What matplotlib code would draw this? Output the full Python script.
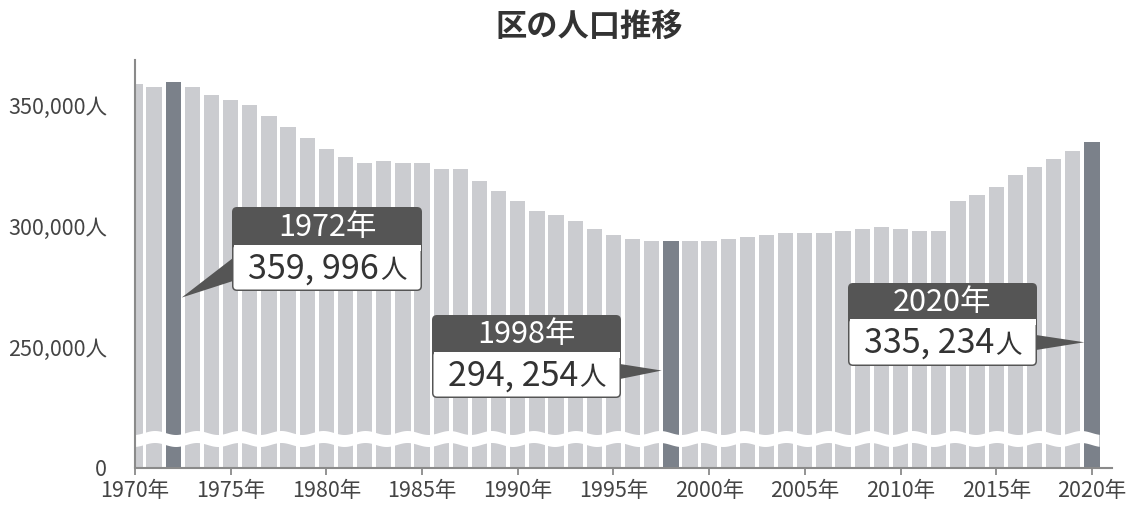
import numpy as np
import matplotlib
matplotlib.use("Agg")
import matplotlib.pyplot as plt
from matplotlib.patches import FancyBboxPatch, Polygon, Rectangle
from matplotlib.transforms import Affine2D, blended_transform_factory

plt.rcParams['font.family'] = ['Noto Sans CJK JP', 'DejaVu Sans']

# ---------------- data ----------------
years = list(range(1970, 2021))
population = [359170, 357930, 359996, 357930, 354620, 352560, 350490, 345940, 341390, 336850,
              332300, 328990, 326510, 327330, 326510, 326510, 324030, 324030, 319060, 314930,
              310790, 306660, 305000, 302520, 299220, 296740, 295080, 294300, 294254, 294250,
              294250, 295080, 295910, 296740, 297560, 297560, 297560, 298390, 299220, 300040,
              299220, 298390, 298390, 310790, 313280, 316580, 321550, 324850, 328160, 331470,
              335234]
highlight_years = [1972, 1998, 2020]
x_ticks = list(range(1970, 2021, 5))
x_tick_labels = [f"{y}年" for y in x_ticks]
y_ticks = [0, 250000, 300000, 350000]
y_tick_labels = ["0", "250,000人", "300,000人", "350,000人"]
title = "区の人口推移"

# ---------------- style ----------------
W, H = 1140, 511
LIGHT = "#cbccd0"
DARK = "#7b818a"
AXIS = "#8a8a8a"
TXT = "#444444"
BOXC = "#555555"

fig = plt.figure(figsize=(W / 100, H / 100), dpi=100)
ax = fig.add_axes([135 / W, 1 - 467.5 / H, (1112 - 135) / W, (467.5 - 60) / H])

# broken y-axis via function scale
B, K = 215000.0, 0.068
def fwd(v):
    v = np.asarray(v, dtype=float)
    return np.where(v >= B, v, B - (B - v) * K)
def inv(u):
    u = np.asarray(u, dtype=float)
    return np.where(u >= B, u, B - (B - u) / K)
ax.set_yscale('function', functions=(fwd, inv))

BW = 0.8
colors = [DARK if y in highlight_years else LIGHT for y in years]
ax.bar(years, population, width=BW, color=colors, zorder=2)

ax.set_ylim(0, 369000)
ax.set_xlim(1970, 2021.05)

ax.set_xticks(x_ticks)
ax.set_xticklabels(x_tick_labels)
ax.set_yticks(y_ticks)
ax.set_yticklabels(y_tick_labels)
ax.minorticks_off()
ax.tick_params(axis='x', length=5, width=1.3, color=AXIS, pad=4, labelsize=15.5, labelcolor=TXT)
ax.tick_params(axis='y', length=0, pad=20, labelsize=15.5, labelcolor=TXT)
for s in ['top', 'right']:
    ax.spines[s].set_visible(False)
for s in ['left', 'bottom']:
    ax.spines[s].set_color(AXIS)
    ax.spines[s].set_linewidth(1.5)
    ax.spines[s].set_zorder(4)

# wavy break band
bt = blended_transform_factory(ax.transData, ax.transAxes)
xs = np.linspace(1970, years[-1] + BW / 2, 800)
ah = 467.5 - 60
c, half, amp = (467.5 - 439) / ah, 6.0 / ah, 2.0 / ah
wave = amp * np.sin(2 * np.pi * (xs - 1970.5) / 2.2)
upper = c + half + wave
lower = c - half + wave
poly = np.concatenate([np.column_stack([xs, upper]), np.column_stack([xs[::-1], lower[::-1]])])
ax.add_patch(Polygon(poly, closed=True, facecolor='white', edgecolor='none',
                     transform=bt, zorder=3, clip_on=False))

# title
fig.text(589 / W, 1 - 26.5 / H, title, fontsize=22.5, fontweight='bold', color='#333333',
         ha='center', va='center')

# ---------------- callouts ----------------
PIX = Affine2D().scale(1, -1).translate(0, H)  # top-left pixel coords -> display

# (x0, x1, top, mid, bottom, side, base_y0, base_y1, tip_dx_years, tip_value)
callouts = {
    1972: (232, 422, 207, 245, 291, 'left', 258, 281, +BW / 2 + 0.04, 270700),
    1998: (432, 621, 315, 352, 398, 'right', 364, 379, -BW / 2 - 0.08, 240500),
    2020: (848, 1037, 283, 319, 366, 'right', 335, 350, -BW / 2 + 0.0, 252200),
}

fig.canvas.draw()
renderer = fig.canvas.get_renderer()
inv_pix = PIX.inverted()

for yr in highlight_years:
    x0, x1, top, mid, bot, side, by0, by1, dx, tipv = callouts[yr]
    val = population[years.index(yr)]
    # pointer
    tip_disp = ax.transData.transform((yr + dx, tipv))
    tx, ty = inv_pix.transform(tip_disp)
    bx = x0 + 1 if side == 'left' else x1 - 1
    fig.add_artist(Polygon([(bx, by0), (tx, ty), (bx, by1)], closed=True,
                           facecolor=BOXC, edgecolor='none', transform=PIX, zorder=5))
    # box
    fig.add_artist(FancyBboxPatch((x0, top), x1 - x0, bot - top,
                                  boxstyle="round,pad=0,rounding_size=5",
                                  facecolor=BOXC, edgecolor='none', transform=PIX, zorder=6))
    fig.add_artist(FancyBboxPatch((x0 + 1.5, mid), x1 - x0 - 3, bot - mid - 1.5,
                                  boxstyle="round,pad=0,rounding_size=3.5",
                                  facecolor='white', edgecolor='none', transform=PIX, zorder=7))
    fig.add_artist(Rectangle((x0 + 1.5, mid), x1 - x0 - 3, 6, facecolor='white',
                             edgecolor='none', transform=PIX, zorder=7))
    # header text
    cx = (x0 + x1) / 2
    fig.text(cx, (top + mid) / 2 + 1, f"{yr}年", color='white', fontsize=22,
             ha='center', va='center', transform=PIX, zorder=8)
    # value text
    num = f"{val // 1000}, {val % 1000:03d}"
    base_y = (mid + bot) / 2 + 10.5
    t1 = fig.text(0, base_y, num, color='#333333', fontsize=24.5, ha='left',
                  va='baseline', transform=PIX, zorder=8)
    t2 = fig.text(0, base_y, "人", color='#333333', fontsize=19, ha='left',
                  va='baseline', transform=PIX, zorder=8)
    w1 = t1.get_window_extent(renderer).width
    w2 = t2.get_window_extent(renderer).width
    start = cx - (w1 + w2) / 2
    t1.set_x(start)
    t2.set_x(start + w1 + 1)

fig.savefig("out.png", dpi=100, facecolor='white')
